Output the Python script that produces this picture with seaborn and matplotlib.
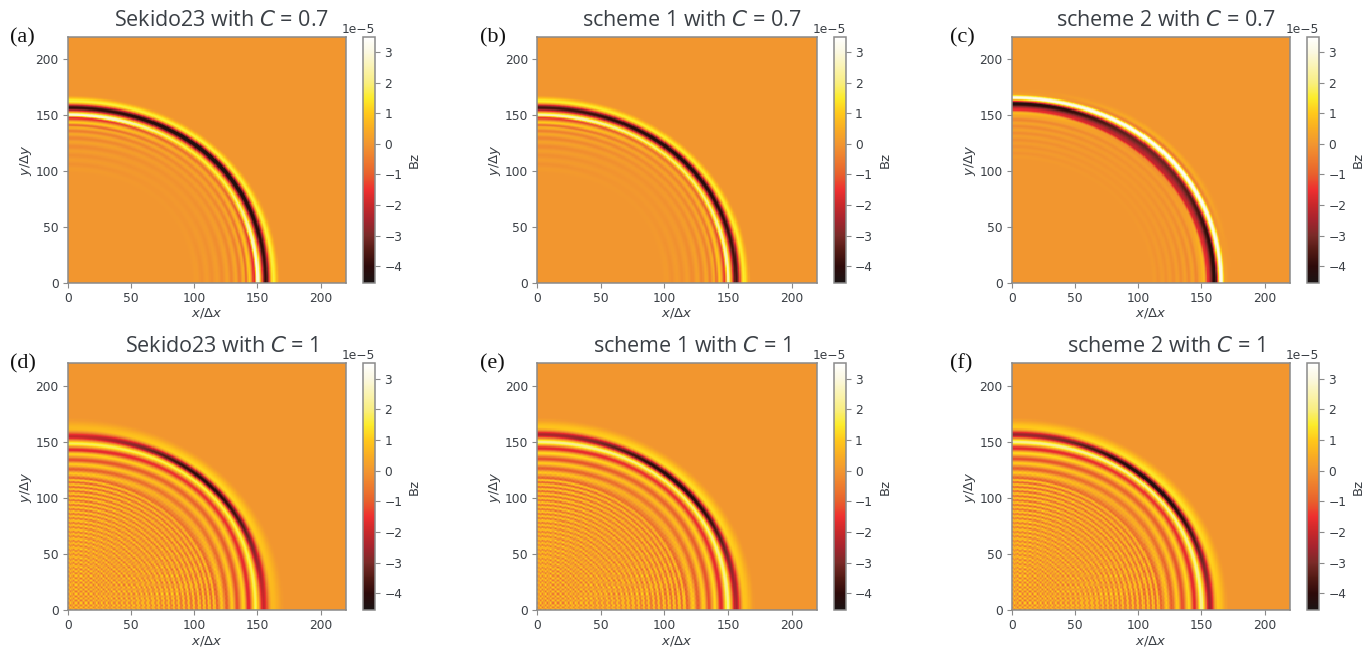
import numpy as np
import seaborn as sns
import matplotlib.pyplot as plt
from matplotlib.colors import LinearSegmentedColormap

plt.rcParams['mathtext.fontset'] = 'custom'
plt.rcParams['mathtext.rm'] = 'DejaVu Sans'
plt.rcParams['mathtext.it'] = 'DejaVu Sans:italic'

W, H = 1371, 649
GREY = '#8a8a8a'
TEXT = '#3a3f45'

titles = ['Sekido23 with $C$ = 0.7', 'scheme 1 with $C$ = 0.7', 'scheme 2 with $C$ = 0.7',
          'Sekido23 with $C$ = 1', 'scheme 1 with $C$ = 1', 'scheme 2 with $C$ = 1']
letters = ['(a)', '(b)', '(c)', '(d)', '(e)', '(f)']

# colour bar, value in units of 1e-5
cbar_vals = [-4.55, -4.0, -3.5, -3.0, -2.5, -2.0, -1.5, -1.0, -0.5, 0.0, 0.5, 1.0, 1.5, 2.0, 3.0, 3.5]
cbar_cols = ['#1a1414', '#2e0a0a', '#521a14', '#7a2a28', '#a5242e', '#c8282b', '#ee2f2f', '#e8602c',
             '#ee7c2e', '#f2962f', '#f9ad22', '#ffc81a', '#fcec2a', '#f9ee80', '#fbf8e0', '#ffffff']

# ring positions and strengths along the axes and along the diagonal (C = 0.7)
a_r_axis = [0, 98, 102, 106, 110, 114, 118, 122, 126, 129.5, 133, 136, 139, 141, 143.5, 147.5, 150, 156.5, 162.5, 168, 220]
a_v_axis = [0, 0, .1, -.1, .12, -.12, .15, -.2, .25, -.3, .35, -.45, .5, -.8, 1.0, -1.6, 3.0, -3.9, 1.6, 0, 0]
a_r_diag = [0, 100, 104, 108, 112, 116, 120, 124, 128, 131, 134, 137, 140, 143, 146, 149, 153, 159.5, 165, 170, 220]
a_v_diag = [0, 0, .03, -.03, .05, -.05, .06, -.08, .1, -.12, .15, -.2, .25, -.3, .4, -.6, 1.6, -4.5, 1.6, 0, 0]

b_r_axis = [0, 98, 102, 106, 110, 114, 118, 122, 126, 129.5, 133, 136, 139, 141, 143.5, 147.5, 150, 156.5, 162.5, 168, 220]
b_v_axis = [0, 0, .1, -.1, .12, -.12, .15, -.2, .25, -.3, .35, -.4, .5, -.7, 1.0, -1.4, 2.6, -3.7, 1.5, 0, 0]
b_r_diag = [0, 100, 104, 108, 112, 116, 120, 124, 128, 131, 134, 137, 140, 143, 146, 149, 152.5, 158.5, 164, 169, 220]
b_v_diag = [0, 0, .03, -.03, .05, -.05, .06, -.08, .1, -.12, .15, -.2, .25, -.3, .4, -.6, 1.9, -4.3, 1.5, 0, 0]

c_r_axis = [0, 110, 113, 116, 119, 122, 125, 128, 131, 134, 137, 140, 143, 146, 149, 152, 155, 160.5, 165.5, 169, 172, 175, 220]
c_v_axis = [0, 0, .08, -.08, .1, -.1, .12, -.14, .16, -.18, .2, -.22, .25, -.28, .3, .7, -1.6, -4.3, 3.2, .2, 0, 0, 0]
c_r_diag = [0, 110, 113, 116, 119, 122, 125, 128, 131, 134, 137, 140, 143, 146, 149, 152, 155.5, 161, 167.5, 171, 174, 178, 220]
c_v_diag = [0, 0, .03, -.03, .04, -.04, .05, -.05, .06, -.06, .07, -.08, .1, -.12, .15, -.1, -2.2, -3.2, 3.4, -.5, .5, 0, 0]

# C = 1: dense inner rings shared by the lower row
inner_r = [0, 2, 4, 6, 8, 10, 12, 14, 16, 18, 20, 22, 24, 26, 28, 30, 32, 34, 36, 38, 40, 42, 44, 46, 48, 50,
           52, 54, 56, 58, 60, 62, 64, 66, 68, 70, 72, 74, 76, 78, 80, 82, 84, 86, 88, 90, 92, 94, 96, 98,
           100, 102, 104, 106, 108, 110, 112, 114, 116, 118]
inner_v = [.3, .1, .4, .1, .4, .1, .4, .1, .4, .1, .4, .1, .45, .05, .5, .05, .5, 0, .5, 0, .55, -.05, .55, -.05, .6, -.1,
           .6, -.1, .65, -.15, .65, -.2, .7, -.25, .7, -.3, .75, -.35, .75, -.4, .8, -.45, .8, -.5, .85, -.55, .85, -.6, .9, -.65,
           .9, -.7, .9, -.75, .9, -.8, .9, -.85, .9, -.9]

d_r_axis = [121.7, 125.7, 130, 134, 139, 143, 148.5, 154.7, 162, 172, 220]
d_v_axis = [.9, -1.0, 1.0, -1.2, 1.1, -1.7, 1.8, -2.0, .7, 0, 0]
d_r_diag = [125, 129, 134, 138.5, 143.5, 148, 153, 158, 164, 173, 220]
d_v_diag = [.5, -.6, .7, -.9, 1.0, -1.5, 1.7, -4.1, 1.2, 0, 0]

e_r_axis = [122.5, 126.5, 131, 135, 140, 144.5, 150, 156.5, 163, 172, 220]
e_v_axis = [.9, -1.0, 1.0, -1.2, 1.2, -1.7, 2.2, -2.4, .9, 0, 0]
e_r_diag = [125, 129, 134, 138.5, 143.5, 148, 153, 158, 164, 173, 220]
e_v_diag = [.5, -.6, .7, -.9, 1.0, -1.5, 2.0, -4.3, 1.3, 0, 0]

f_r_axis = [122.5, 126.5, 131, 135, 140, 144.5, 150, 156.5, 163, 172, 220]
f_v_axis = [.9, -1.0, 1.0, -1.2, 1.2, -1.7, 2.2, -2.6, 1.0, 0, 0]
f_r_diag = [125, 129, 134, 138.5, 143.5, 148, 153, 158, 164, 173, 220]
f_v_diag = [.5, -.6, .7, -.9, 1.0, -1.5, 2.2, -4.4, 1.4, 0, 0]

# checker weave seen near the origin of the lower row
weave_cell = [1.0, 0.1, -1.0, -0.1]
weave_r = [0, 40, 80, 110, 135, 220]
weave_a_c1 = [.75, .6, .4, .25, 0, 0]
weave_a_c07 = [0, 0, 0, 0, 0, 0]

panels = [
    (a_r_axis, a_v_axis, a_r_diag, a_v_diag, weave_a_c07),
    (b_r_axis, b_v_axis, b_r_diag, b_v_diag, weave_a_c07),
    (c_r_axis, c_v_axis, c_r_diag, c_v_diag, weave_a_c07),
    (inner_r + d_r_axis, inner_v + d_v_axis, inner_r + d_r_diag, [v * .7 for v in inner_v] + d_v_diag, weave_a_c1),
    (inner_r + e_r_axis, inner_v + e_v_axis, inner_r + e_r_diag, [v * .7 for v in inner_v] + e_v_diag, weave_a_c1),
    (inner_r + f_r_axis, inner_v + f_v_axis, inner_r + f_r_diag, [v * .7 for v in inner_v] + f_v_diag, weave_a_c1),
]


def build_field(r_axis, v_axis, r_diag, v_diag, weave_a):
    # look the read-off ring table up by radius and angle on the 220 x 220 grid
    x, y = np.meshgrid(np.arange(220) + .5, np.arange(220) + .5)
    r = np.hypot(x, y)
    w = np.sin(2 * np.arctan2(y, x)) ** 2
    knots = np.arange(len(r_axis))
    pos = (1 - w) * np.interp(r, r_axis, knots) + w * np.interp(r, r_diag, knots)
    lo = np.clip(pos.astype(int), 0, len(knots) - 2)
    t = pos - lo
    t = t * t * (3 - 2 * t)
    va, vd = np.array(v_axis), np.array(v_diag)
    val = (1 - w) * (va[lo] * (1 - t) + va[lo + 1] * t) + w * (vd[lo] * (1 - t) + vd[lo + 1] * t)
    cell = np.array(weave_cell)
    ix, iy = np.arange(220) % len(cell), np.arange(220) % len(cell)
    val = val + np.outer(cell[iy], cell[ix]) * np.interp(r, weave_r, weave_a)
    return val * 1e-5


cmap = LinearSegmentedColormap.from_list(
    'bz', [((v - cbar_vals[0]) / (cbar_vals[-1] - cbar_vals[0]), c) for v, c in zip(cbar_vals, cbar_cols)], N=512)

fig = plt.figure(figsize=(W / 100, H / 100), dpi=100)


def px_axes(x0, x1, y0, y1):
    return fig.add_axes([x0 / W, 1 - y1 / H, (x1 - x0) / W, (y1 - y0) / H])


columns = [(67.7, 346, 363.3, 375.3, 10), (537, 817, 833.5, 846, 480), (1011.7, 1290, 1307.3, 1319.3, 950)]
rows = [(36.7, 283, 20, 38), (363.3, 610.3, 347, 364)]

for i, spec in enumerate(panels):
    x0, x1, c0, c1, lx = columns[i % 3]
    y0, y1, ty, ly = rows[i // 3]
    ax = px_axes(x0, x1, y0, y1)
    cax = px_axes(c0, c1, y0, y1)
    sns.heatmap(build_field(*spec), ax=ax, cbar_ax=cax, cmap=cmap, vmin=-4.55e-5, vmax=3.5e-5,
                xticklabels=False, yticklabels=False, rasterized=True, cbar_kws={'label': 'Bz'})
    ax.set_xlim(0, 220)
    ax.set_ylim(0, 220)
    ax.set_xticks([0, 50, 100, 150, 200], ['0', '50', '100', '150', '200'])
    ax.set_yticks([0, 50, 100, 150, 200], ['0', '50', '100', '150', '200'], rotation=0)
    ax.tick_params(labelsize=8.8, colors=TEXT, color=GREY, length=3.5, width=.8, pad=3)
    ax.set_xlabel(r'$x/\Delta x$', fontsize=9.5, color=TEXT, labelpad=1)
    ax.set_ylabel(r'$y/\Delta y$', fontsize=9.5, color=TEXT, labelpad=1)
    for s in ax.spines.values():
        s.set_visible(True)
        s.set_color(GREY)
        s.set_linewidth(1.1)

    cb = ax.collections[0].colorbar
    cb.set_ticks([k * 1e-5 for k in range(-4, 4)])
    cb.outline.set_visible(True)
    cb.outline.set_edgecolor(GREY)
    cb.outline.set_linewidth(1.1)
    cax.tick_params(labelsize=8.8, colors=TEXT, color=GREY, length=3.5, width=.8, pad=3)
    cax.yaxis.get_offset_text().set_fontsize(8.8)
    cax.yaxis.get_offset_text().set_color(TEXT)
    cax.yaxis.label.set_color(TEXT)
    cax.yaxis.label.set_fontsize(9.5)

    fig.text((x0 + c1) / 2 / W, 1 - ty / H, titles[i], ha='center', va='center', fontsize=15.5,
             color=TEXT, family='Open Sans')
    fig.text(lx / W, 1 - ly / H, letters[i], ha='left', va='center', fontsize=16, color='#111111',
             family='Liberation Serif')

fig.savefig('out.png', dpi=100)
